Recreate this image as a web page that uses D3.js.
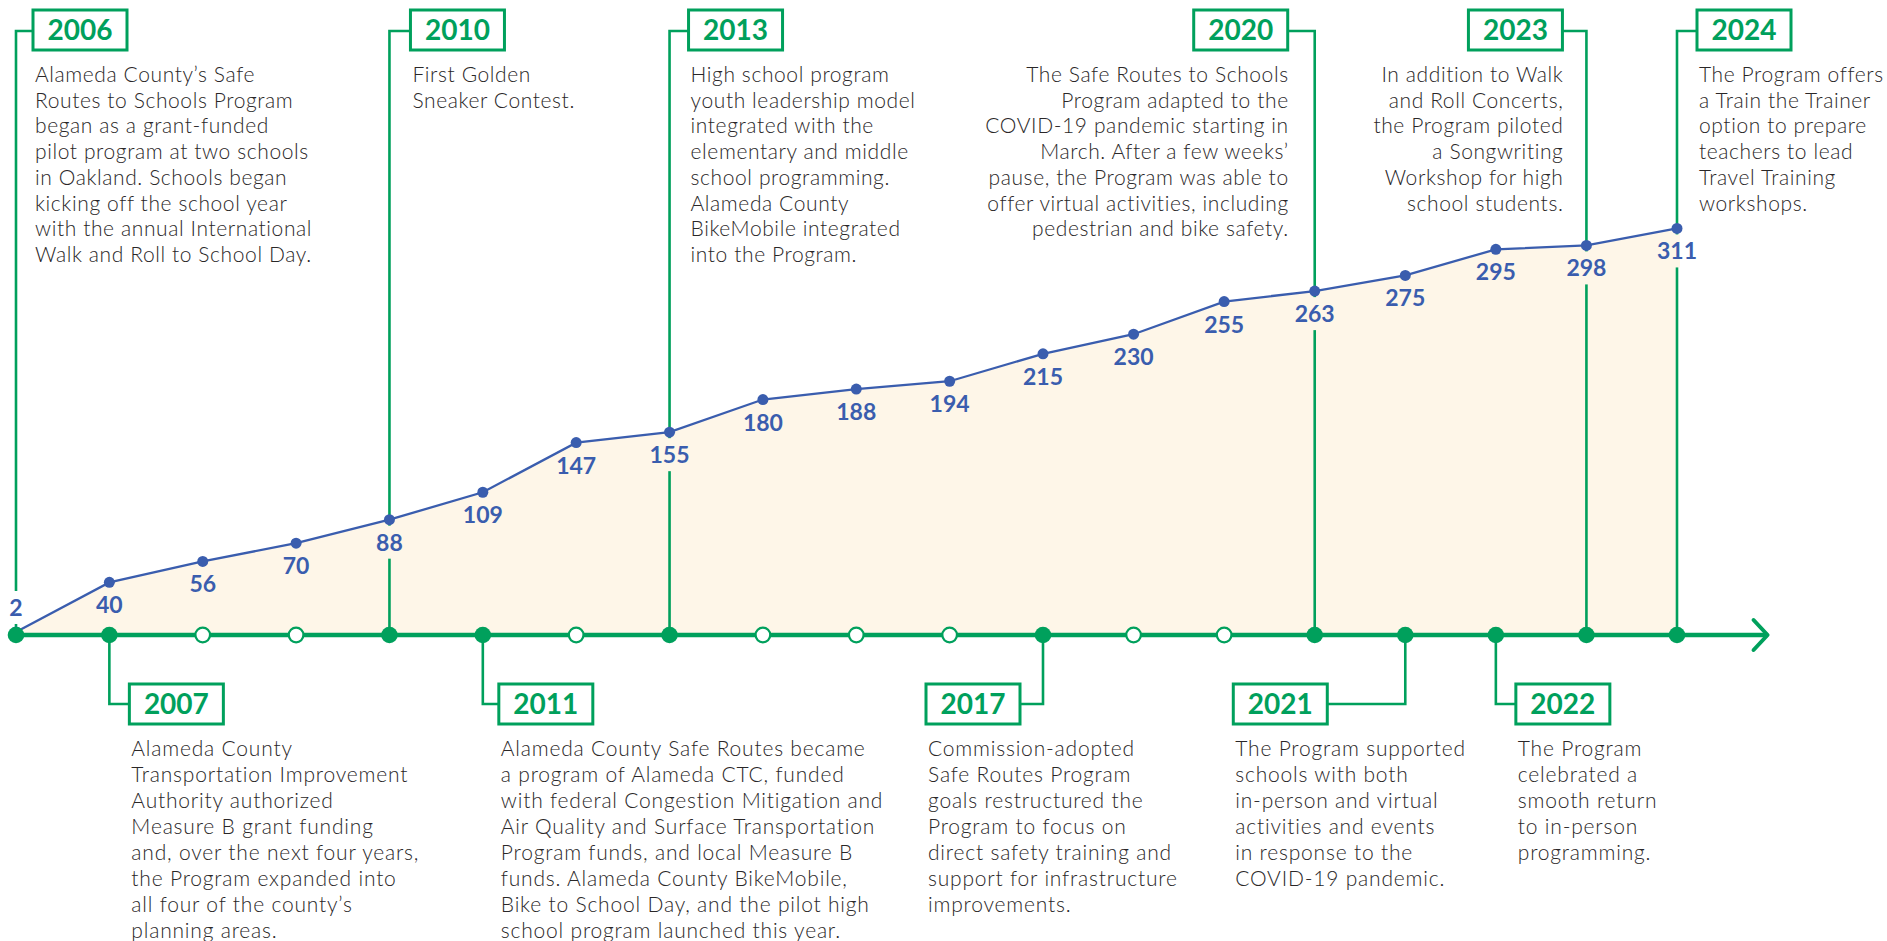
<!DOCTYPE html>
<html>
<head>
<meta charset="utf-8">
<script src="https://cdn.jsdelivr.net/npm/d3@7/dist/d3.min.js"></script>
<style>
  body { margin: 0; background: #fff; }
  svg { display: block; }
</style>
</head>
<body>
<div id="svgContainer"></div>
<script>
// data
var years = [2006, 2007, 2008, 2009, 2010, 2011, 2012, 2013, 2014, 2015,
  2016, 2017, 2018, 2019, 2020, 2021, 2022, 2023, 2024];
var schools = [2, 40, 56, 70, 88, 109, 147, 155, 180, 188,
  194, 215, 230, 255, 263, 275, 295, 298, 311];

var eventYears = [2006, 2007, 2010, 2011, 2013, 2017, 2020, 2021, 2022, 2023, 2024];
var eventNotes = [
  ["Alameda County\u2019s Safe", "Routes to Schools Program", "began as a grant-funded",
    "pilot program at two schools", "in Oakland. Schools began", "kicking off the school year",
    "with the annual International", "Walk and Roll to School Day."],
  ["Alameda County", "Transportation Improvement", "Authority authorized",
    "Measure B grant funding", "and, over the next four years,", "the Program expanded into",
    "all four of the county\u2019s", "planning areas."],
  ["First Golden", "Sneaker Contest."],
  ["Alameda County Safe Routes became", "a program of Alameda CTC, funded",
    "with federal Congestion Mitigation and", "Air Quality and Surface Transportation",
    "Program funds, and local Measure B", "funds. Alameda County BikeMobile,",
    "Bike to School Day, and the pilot high", "school program launched this year."],
  ["High school program", "youth leadership model", "integrated with the",
    "elementary and middle", "school programming.", "Alameda County",
    "BikeMobile integrated", "into the Program."],
  ["Commission-adopted", "Safe Routes Program", "goals restructured the",
    "Program to focus on", "direct safety training and", "support for infrastructure",
    "improvements."],
  ["The Safe Routes to Schools", "Program adapted to the", "COVID-19 pandemic starting in",
    "March. After a few weeks\u2019", "pause, the Program was able to",
    "offer virtual activities, including", "pedestrian and bike safety."],
  ["The Program supported", "schools with both", "in-person and virtual",
    "activities and events", "in response to the", "COVID-19 pandemic."],
  ["The Program", "celebrated a", "smooth return", "to in-person", "programming."],
  ["In addition to Walk", "and Roll Concerts,", "the Program piloted",
    "a Songwriting", "Workshop for high", "school students."],
  ["The Program offers", "a Train the Trainer", "option to prepare",
    "teachers to lead", "Travel Training", "workshops."]
];

// layout of each callout: above/below the timeline, box side, gap from the node
var callout = {
  2006: { side: "top", align: "left", gap: 17 },
  2007: { side: "bottom", align: "left", gap: 20 },
  2010: { side: "top", align: "left", gap: 21 },
  2011: { side: "bottom", align: "left", gap: 16 },
  2013: { side: "top", align: "left", gap: 19 },
  2017: { side: "bottom", align: "right", gap: 23 },
  2020: { side: "top", align: "right", gap: 27 },
  2021: { side: "bottom", align: "right", gap: 78 },
  2022: { side: "bottom", align: "left", gap: 20 },
  2023: { side: "top", align: "right", gap: 24 },
  2024: { side: "top", align: "left", gap: 20 }
};

var width = 1887;
var height = 941;
var green = "#00a05c";
var blue = "#3a5dae";
var cream = "#fef6e8";
var ink = "#2a2728";
var font = "Lato, 'Open Sans', sans-serif";

var baseY = 635;
var boxW = 94, boxH = 40;
var topBox = 10, bottomBox = 684;

var svg = d3.select("#svgContainer").append("svg")
  .attr("width", width)
  .attr("height", height);

var x = d3.scaleLinear()
  .domain([2006, 2017, 2024])
  .range([16, 1043, 1677]);

var y = d3.scaleLinear()
  .domain([0, 300])
  .range([634.6, 242.8]);

var points = years.map(function(yr, i) {
  return { year: yr, value: schools[i] };
});

// area under the count line
var area = d3.area()
  .x(function(d) { return x(d.year); })
  .y0(baseY)
  .y1(function(d) { return y(d.value); });

svg.append("path")
  .datum(points)
  .attr("d", area)
  .attr("fill", cream);

// callout connectors
var events = eventYears.map(function(yr, i) {
  var c = callout[yr];
  var nx = x(yr);
  var boxX = c.align === "left" ? nx + c.gap : nx - c.gap - boxW;
  var boxY = c.side === "top" ? topBox : bottomBox;
  return { year: yr, lines: eventNotes[i], side: c.side, align: c.align,
    nx: nx, boxX: boxX, boxY: boxY, joinY: boxY + boxH / 2 + (c.side === "top" ? 1 : 0) };
});

svg.selectAll(".connector")
  .data(events)
  .enter().append("path")
  .attr("class", "connector")
  .attr("d", function(d) {
    var edge = d.align === "left" ? d.boxX : d.boxX + boxW;
    return "M" + d.nx + "," + baseY + "V" + d.joinY + "H" + edge;
  })
  .attr("fill", "none")
  .attr("stroke", green)
  .attr("stroke-width", 2.6);

// value label positions
function labelY(d) {
  var below = y(d.value) + 31;
  return below > baseY - 12 ? y(d.value) - 16 : below;
}
function labelAbove(d) {
  return y(d.value) + 31 > baseY - 12;
}

// gaps in the vertical connectors where a value label sits
var topEventPoints = points.filter(function(d) {
  var i = eventYears.indexOf(d.year);
  return i >= 0 && callout[d.year].side === "top";
});

svg.selectAll(".gap")
  .data(topEventPoints)
  .enter().append("rect")
  .attr("class", "gap")
  .attr("x", function(d) { return x(d.year) - 3; })
  .attr("y", function(d) { return labelY(d) - 25; })
  .attr("width", 6)
  .attr("height", 33)
  .attr("fill", function(d) { return labelAbove(d) ? "#fff" : cream; });

// timeline
var tipX = x(2025);
svg.append("line")
  .attr("x1", x(2006))
  .attr("x2", tipX)
  .attr("y1", baseY)
  .attr("y2", baseY)
  .attr("stroke", green)
  .attr("stroke-width", 4.5);

svg.append("path")
  .attr("d", "M" + (tipX - 14) + "," + (baseY - 15) + "L" + tipX + "," + baseY +
    "L" + (tipX - 14) + "," + (baseY + 15))
  .attr("fill", "none")
  .attr("stroke", green)
  .attr("stroke-width", 4)
  .attr("stroke-linecap", "round")
  .attr("stroke-linejoin", "round");

// count line
var line = d3.line()
  .x(function(d) { return x(d.year); })
  .y(function(d) { return y(d.value); });

svg.append("path")
  .datum(points)
  .attr("d", line)
  .attr("fill", "none")
  .attr("stroke", blue)
  .attr("stroke-width", 2.3);

svg.selectAll(".dot")
  .data(points)
  .enter().append("circle")
  .attr("class", "dot")
  .attr("cx", function(d) { return x(d.year); })
  .attr("cy", function(d) { return y(d.value); })
  .attr("r", 5.5)
  .attr("fill", blue);

svg.selectAll(".val")
  .data(points)
  .enter().append("text")
  .attr("class", "val")
  .attr("x", function(d) { return x(d.year); })
  .attr("y", labelY)
  .attr("text-anchor", "middle")
  .attr("font-family", font)
  .attr("font-weight", "bold")
  .attr("font-size", 23)
  .attr("fill", blue)
  .text(function(d) { return d.value; });

// year nodes on the timeline
svg.selectAll(".node")
  .data(years)
  .enter().append("circle")
  .attr("class", "node")
  .attr("cx", function(d) { return x(d); })
  .attr("cy", baseY)
  .attr("r", function(d) { return eventYears.indexOf(d) >= 0 ? 8.3 : 7.3; })
  .attr("fill", function(d) { return eventYears.indexOf(d) >= 0 ? green : "#fff"; })
  .attr("stroke", green)
  .attr("stroke-width", function(d) { return eventYears.indexOf(d) >= 0 ? 0 : 2.2; });

// year boxes
var boxes = svg.selectAll(".box")
  .data(events)
  .enter().append("g")
  .attr("class", "box");

boxes.append("rect")
  .attr("x", function(d) { return d.boxX; })
  .attr("y", function(d) { return d.boxY; })
  .attr("width", boxW)
  .attr("height", boxH)
  .attr("fill", "#fff")
  .attr("stroke", green)
  .attr("stroke-width", 3);

boxes.append("text")
  .attr("x", function(d) { return d.boxX + boxW / 2; })
  .attr("y", function(d) { return d.boxY + 30; })
  .attr("text-anchor", "middle")
  .attr("font-family", font)
  .attr("font-weight", "bold")
  .attr("font-size", 28)
  .attr("fill", green)
  .text(function(d) { return d.year; });

// notes
var notes = boxes.append("text")
  .attr("font-family", font)
  .attr("font-weight", 300)
  .attr("font-size", 21)
  .attr("letter-spacing", function(d) { return d.side === "top" ? 0.6 : 0.8; })
  .attr("fill", ink)
  .attr("text-anchor", function(d) { return d.align === "right" && d.side === "top" ? "end" : "start"; });

notes.selectAll("tspan")
  .data(function(d) {
    return d.lines.map(function(t, i) { return { t: t, i: i, ev: d }; });
  })
  .enter().append("tspan")
  .attr("x", function(d) {
    var ev = d.ev;
    if (ev.align === "right" && ev.side === "top") return ev.boxX + boxW + 1;
    return ev.boxX + 2;
  })
  .attr("y", function(d) {
    return d.ev.side === "top" ? 82 + d.i * 25.7 : 756 + d.i * 26;
  })
  .text(function(d) { return d.t; });
</script>
</body>
</html>
